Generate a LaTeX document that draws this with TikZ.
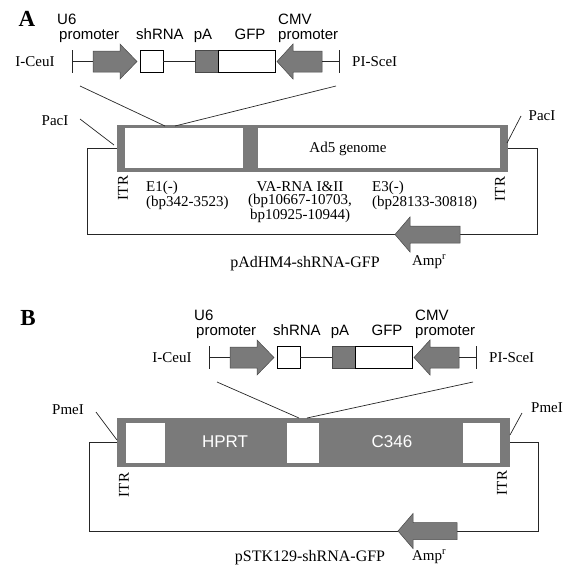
\documentclass[tikz,border=0pt]{standalone}
\usepackage{fontspec}
\setmainfont{Liberation Serif}
\setsansfont{Liberation Sans}
\definecolor{dnagray}{RGB}{122,122,122}

\begin{document}
\begin{tikzpicture}[x=1pt,y=-1pt,
 gene/.style={fill=dnagray,draw=dnagray!60!black,line width=.5pt},
 wbox/.style={draw=black,fill=white,line width=.7pt,inner sep=0},
 gbox/.style={draw=dnagray!60!black,fill=dnagray,line width=.5pt,inner sep=0},
 hole/.style={fill=white,inner sep=0},
 wire/.style={draw=black!85,line width=.7pt},
 sflab/.style={font=\sffamily\fontsize{15}{16}\selectfont,inner sep=0},
 rmlab/.style={font=\fontsize{15}{13.5}\selectfont,inner sep=0},
 panel/.style={font=\bfseries\fontsize{23}{23}\selectfont,inner sep=0}]
\useasboundingbox (0,0) rectangle (565,565);

\node[panel] (labA) at (27,19) {A};
\node[panel] (labB) at (28,318) {B};

\foreach \p/\dx/\dy in {A/0/0,B/137/296} {
\begin{scope}[shift={(\dx,\dy)}]
\draw[wire] (72,50) -- (72,73) (72,61.5) -- (93,61.5);
\draw[gene] (93,51) -- (120,51) -- (120,44) -- (137,61.5) -- (120,79) -- (120,72) -- (93,72) -- cycle;
\node[wbox,minimum width=23,minimum height=22] (\p sh) at (151.5,61.5) {};
\node[gbox,minimum width=23,minimum height=22,anchor=east] (\p pa) at (218,61.5) {};
\node[wbox,minimum width=57,minimum height=22,anchor=west] (\p gfp) at (218,61.5) {};
\draw[wire] (\p sh) -- (\p pa);
\draw[gene] (322,51) -- (293,51) -- (293,44) -- (277,61.5) -- (293,79) -- (293,72) -- (322,72) -- cycle;
\draw[wire] (322,61.5) -- (339,61.5) (339,50) -- (339,73);
\node[sflab,anchor=base west] (\p u6) at (57,24) {U6};
\node[sflab,anchor=base west] (\p u6p) at (59,39) {promoter};
\node[sflab,anchor=base] (\p shl) at (160,39) {shRNA};
\node[sflab,anchor=base] (\p pal) at (203,39) {pA};
\node[sflab,anchor=base] (\p gfpl) at (250,39) {GFP};
\node[sflab,anchor=base west] (\p cmv) at (278,24) {CMV};
\node[sflab,anchor=base west] (\p cmvp) at (278,39) {promoter};
\node[rmlab,anchor=base] (\p ceu) at (35,66) {I-CeuI};
\node[rmlab,anchor=base west] (\p sce) at (352,66) {PI-SceI};
\coordinate (\p lt) at (80,86);
\coordinate (\p rt) at (336,86);
\end{scope}
}

\node[gbox,draw=none,minimum width=391,minimum height=47] (genA) at (312.5,148.5) {};
\node[hole,minimum width=118,minimum height=40] (e1A) at (184,148) {};
\node[hole,minimum width=242,minimum height=40] (ad5A) at (379,148) {};
\node[rmlab] (ad5l) at (348,149) {Ad5 genome};
\coordinate (Ajl) at (165,126);
\coordinate (Ajr) at (175,126);
\draw[wire] (Alt) -- (Ajl);
\draw[wire] (Art) -- (Ajr);

\node[rmlab,anchor=base] (pacAl) at (55,125) {PacI};
\node[rmlab,anchor=base] (pacAr) at (542,120) {PacI};
\draw[wire] (80,119) -- (114,145);
\draw[wire] (521,116) -- (507,143);
\node[rmlab,rotate=90] (itrAl) at (123,188) {ITR};
\node[rmlab,rotate=90] (itrAr) at (500,189) {ITR};
\node[rmlab,align=left,anchor=north west] (e1l) at (146,181) {E1(-)\\(bp342-3523)};
\node[rmlab,align=center,anchor=north] (val) at (300,181) {VA-RNA I\&II\\(bp10667-10703,\\bp10925-10944)};
\node[rmlab,align=left,anchor=north west] (e3l) at (372,181) {E3(-)\\(bp28133-30818)};

\coordinate (ampAtip) at (395,234.5);
\coordinate (ampAtail) at (460,234.5);
\draw[wire] (genA.west) -- ++(-29,0) |- (ampAtip);
\draw[wire] (ampAtail) -| ([xshift=29pt]genA.east) -- (genA.east);
\draw[gene] (ampAtail) ++(0,-8.5) -- (410,226) -- (410,217) -- (ampAtip) -- (410,252) -- (410,243) -- (460,243) -- cycle;
\node[rmlab,font=\fontsize{16}{16}\selectfont,anchor=base] (nameA) at (305,267) {pAdHM4-shRNA-GFP};
\node[rmlab,font=\fontsize{15}{15}\selectfont,anchor=base] (ampAl) at (429,265) {Amp\textsuperscript{r}};

\node[gbox,draw=none,minimum width=393,minimum height=49] (genB) at (313.5,442.5) {};
\node[hole,minimum width=39,minimum height=40] (h1B) at (145.5,443) {};
\node[hole,minimum width=32,minimum height=40] (h2B) at (303,443) {};
\node[hole,minimum width=37,minimum height=40] (h3B) at (481.5,443) {};
\node[sflab,text=white,font=\sffamily\fontsize{17}{17}\selectfont] (hprt) at (225,442) {HPRT};
\node[sflab,text=white,font=\sffamily\fontsize{17}{17}\selectfont] (c346) at (392,442) {C346};
\coordinate (Bjl) at (299,418);
\coordinate (Bjr) at (307,418);
\draw[wire] (Blt) -- (Bjl);
\draw[wire] (Brt) -- (Bjr);

\node[rmlab,anchor=base] (pmeBl) at (68,414) {PmeI};
\node[rmlab,anchor=base] (pmeBr) at (547,412) {PmeI};
\draw[wire] (96,412) -- (117,440);
\draw[wire] (522,413) -- (510,435);
\node[rmlab,rotate=90] (itrBl) at (124,485) {ITR};
\node[rmlab,rotate=90] (itrBr) at (502,483) {ITR};

\coordinate (ampBtip) at (398,531);
\coordinate (ampBtail) at (457,531);
\draw[wire] (genB.west) -- ++(-27,0) |- (ampBtip);
\draw[wire] (ampBtail) -| ([xshift=28pt]genB.east) -- (genB.east);
\draw[gene] (ampBtail) ++(0,-8.5) -- (413,522.5) -- (413,513.5) -- (ampBtip) -- (413,548.5) -- (413,539.5) -- (457,539.5) -- cycle;
\node[rmlab,font=\fontsize{16}{16}\selectfont,anchor=base] (nameB) at (310,561) {pSTK129-shRNA-GFP};
\node[rmlab,font=\fontsize{15}{15}\selectfont,anchor=base] (ampBl) at (429,560) {Amp\textsuperscript{r}};
\end{tikzpicture}
\end{document}
